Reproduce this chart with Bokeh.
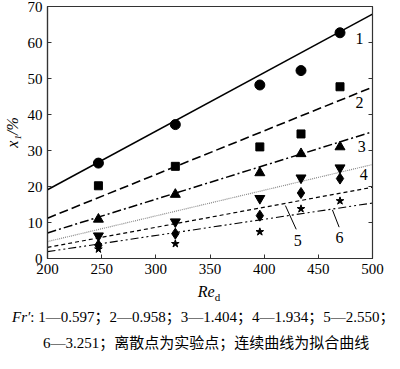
from bokeh.plotting import figure
from bokeh.models import Range1d, LinearAxis, FixedTicker, Div
from bokeh.layouts import column
from bokeh.core.properties import value
from bokeh.embed import file_html
from bokeh.resources import INLINE

# ---- data ----
re_d = [247, 318, 396, 434, 470]
s1 = [26.5, 37.2, 48.2, 52.2, 62.7]
s2 = [20.2, 25.6, 31.0, 34.6, 47.7]
s3 = [10.9, 17.8, 23.8, 29.1, 31.0]
s4 = [6.3, 10.2, 16.7, 22.4, 25.2]
s5 = [3.7, 6.9, 11.9, 18.2, 22.2]
s6 = [2.6, 4.1, 7.4, 13.8, 16.0]

fit_x = [200, 500]
fit1 = [19.1, 67.9]
fit2 = [11.2, 47.6]
fit3 = [7.1, 35.2]
fit4 = [4.7, 26.1]
fit5 = [3.1, 19.8]
fit6 = [1.9, 15.4]

x_ticks = [200, 250, 300, 350, 400, 450, 500]
y_ticks = [0, 10, 20, 30, 40, 50, 60, 70]

curve_labels = ["1", "2", "3", "4", "5", "6"]
y_title = "x\u2081/%"
x_title_main = "Re"
x_title_sub = "d"
caption1_lead = "Fr\u2032"
caption1 = ": 1\u20140.597\uff1b2\u20140.958\uff1b3\u20141.404\uff1b4\u20141.934\uff1b5\u20142.550\uff1b"
caption2 = "6\u20143.251\uff1b\u79bb\u6563\u70b9\u4e3a\u5b9e\u9a8c\u70b9\uff1b\u8fde\u7eed\u66f2\u7ebf\u4e3a\u62df\u5408\u66f2\u7ebf"

SERIF = "Liberation Serif"
W = 384
MAIN_H = 280
CAP_H = 73

p = figure(width=W, height=MAIN_H, output_backend="svg", toolbar_location=None,
           x_range=Range1d(200, 500), y_range=Range1d(0, 70),
           min_border_left=42, min_border_right=12, min_border_top=6, min_border_bottom=22,
           background_fill_color="white", border_fill_color="white")
p.grid.visible = False
p.outline_line_color = "#333333"
p.outline_line_width = 1.2

for ax, ticks in ((p.xaxis[0], x_ticks), (p.yaxis[0], y_ticks)):
    ax.ticker = FixedTicker(ticks=ticks)
    ax.major_tick_in = 4
    ax.major_tick_out = 0
    ax.minor_tick_line_color = None
    ax.axis_line_color = "#333333"
    ax.axis_line_width = 1.2
    ax.major_tick_line_color = "#333333"
    ax.major_label_text_font = SERIF
    ax.major_label_text_font_size = "15px"
    ax.major_label_text_color = "black"
p.xaxis.major_label_standoff = 5
p.yaxis.major_label_standoff = 5
p.yaxis.axis_label = y_title
p.yaxis.axis_label_text_font = SERIF
p.yaxis.axis_label_text_font_size = "16px"
p.yaxis.axis_label_text_font_style = "italic"
p.yaxis.axis_label_text_color = "black"
p.yaxis.axis_label_standoff = 4

rax = LinearAxis(ticker=FixedTicker(ticks=y_ticks), major_tick_in=4, major_tick_out=0,
                 minor_tick_line_color=None,
                 major_label_overrides={t: "" for t in y_ticks},
                 axis_line_color="#333333", major_tick_line_color="#333333")
p.add_layout(rax, "right")

# fitted curves
p.line(fit_x, fit1, line_color="black", line_width=1.5)
p.line(fit_x, fit2, line_color="black", line_width=1.6, line_dash="9 4")
p.line(fit_x, fit3, line_color="black", line_width=1.5, line_dash="9 3 2 3")
p.line(fit_x, fit4, line_color="#888888", line_width=1.2, line_dash="1 1")
p.line(fit_x, fit5, line_color="black", line_width=1.2, line_dash="4 3")
p.line(fit_x, fit6, line_color="black", line_width=1.1, line_dash="8 3 2 3 2 3")

# experimental points
p.scatter(re_d, s1, marker="circle", size=10, color="black")
p.scatter(re_d, s2, marker="square", size=8, color="black")
p.scatter(re_d, s3, marker="triangle", size=10, color="black")
p.scatter(re_d, s4, marker="inverted_triangle", size=10, color="black")
p.scatter(re_d, s5, marker="diamond", size=11, color="black")
p.scatter(re_d, s6, marker="star", size=8, color="black")

# curve numbers
lab_x = [488, 488, 490, 492, 431, 469.5]
lab_y = [61.1, 43.3, 31.1, 23.2, 5.0, 5.7]
p.text(lab_x, lab_y, text=curve_labels, text_font=value(SERIF), text_font_size="16px",
       text_align="center", text_baseline="middle", text_color="black")
p.segment(x0=[419.6, 463.0], y0=[14.7, 13.5], x1=[429.6, 469.2], y1=[8.1, 8.7],
          line_color="black", line_width=1)

# x-axis title and figure note
html = (
    "<div style=\"position:relative;width:%dpx;height:%dpx;color:black;"
    "font-family:'Liberation Serif','Noto Sans CJK SC',serif;\">"
    "<div style=\"position:absolute;left:0;width:%dpx;top:3px;text-align:center;"
    "font-size:16px;line-height:18px;padding-left:34px;box-sizing:border-box\">"
    "<i>%s</i><sub style=\"font-size:11px\">%s</sub></div>"
    "<div style=\"position:absolute;left:12px;top:28px;font-size:15px;line-height:18px;"
    "white-space:nowrap\"><i>%s</i>%s</div>"
    "<div style=\"position:absolute;left:43px;top:54px;font-size:15px;line-height:18px;"
    "white-space:nowrap\">%s</div>"
    "</div>"
) % (W, CAP_H, W, x_title_main, x_title_sub, caption1_lead, caption1, caption2)

note = Div(text=html, width=W, height=CAP_H, margin=0)

layout = column(p, note, spacing=0)
open("out.html", "w").write(file_html(layout, INLINE))
